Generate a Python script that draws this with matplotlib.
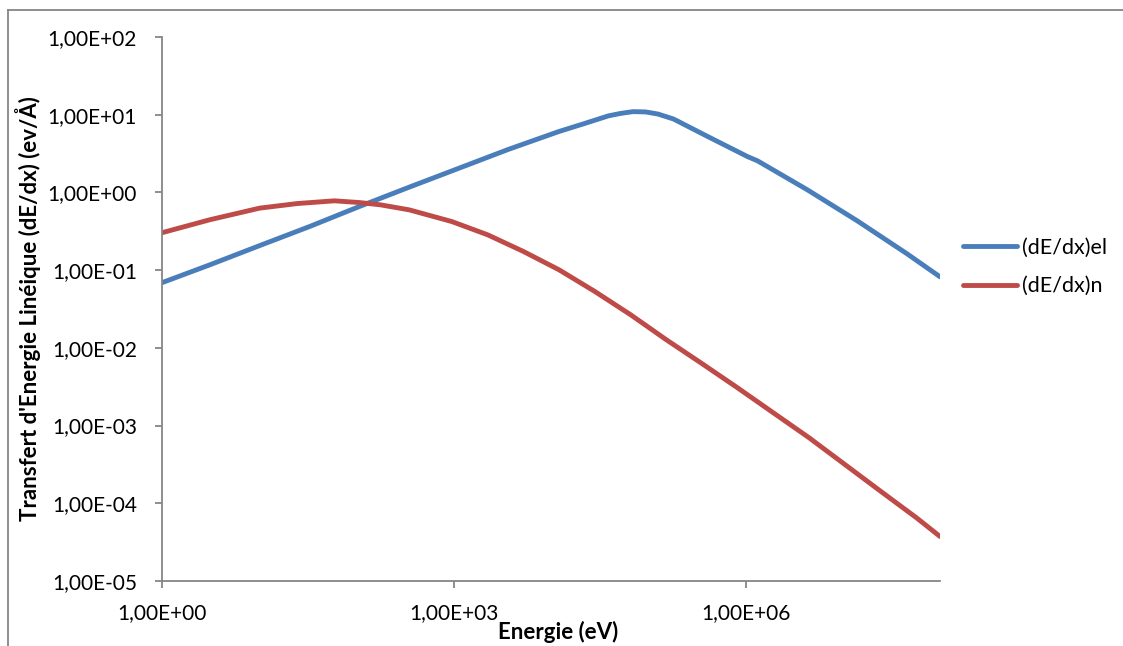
import matplotlib
matplotlib.use("Agg")
import matplotlib.pyplot as plt
from matplotlib.ticker import FixedLocator, FuncFormatter, NullLocator
from matplotlib.lines import Line2D

# Data (log-log)
energy_el = [1.0, 3.10, 10.1, 33.1, 107, 349, 1132, 3690, 11970, 21500, 38900, 52100, 70000,
             94000, 126000, 182000, 410000, 1050000, 1330000, 4330000, 14100000, 45600000,
             100000000]
dedx_el = [0.069, 0.117, 0.207, 0.365, 0.659, 1.17, 2.05, 3.60, 6.06, 7.62, 9.66, 10.4, 10.96,
           10.86, 10.2, 8.8, 5.23, 2.89, 2.55, 1.08, 0.431, 0.163, 0.082]

energy_n = [1.0, 3.10, 10.1, 24.5, 59.2, 107, 176, 348, 955, 2230, 5200, 12100, 28200, 65800,
            153000, 357000, 832000, 1940000, 4520000, 10500000, 24500000, 57200000, 100000000]
dedx_n = [0.303, 0.445, 0.628, 0.719, 0.780, 0.741, 0.693, 0.597, 0.422, 0.285, 0.174, 0.101,
          0.0532, 0.0267, 0.01274, 0.00627, 0.00305, 0.001455, 0.000695, 0.000316,
          0.000143, 6.52e-05, 3.74e-05]

series_labels = ["(dE/dx)el", "(dE/dx)n"]
series_colors = ["#4A7EBB", "#BE4B48"]
x_ticks = [1, 1e3, 1e6]
y_ticks = [1e-5, 1e-4, 1e-3, 1e-2, 1e-1, 1, 1e1, 1e2]

plt.rcParams['font.family'] = ['Lato', 'DejaVu Sans']

W, H = 1123, 646
fig = plt.figure(figsize=(W / 100, H / 100), dpi=100)
ax = fig.add_axes([162 / W, 1 - 581 / H, (940 - 162) / W, (581 - 37) / H])

l1, = ax.plot(energy_el, dedx_el, color=series_colors[0], lw=3.5, solid_capstyle='round',
              solid_joinstyle='round')
l2, = ax.plot(energy_n, dedx_n, color=series_colors[1], lw=3.5, solid_capstyle='round',
              solid_joinstyle='round')

ax.set_xscale('log')
ax.set_yscale('log')
ax.set_xlim(1, 1e8)
ax.set_ylim(1e-5, 1e2)

fmt = FuncFormatter(lambda v, p: f"{v:.2E}".replace('.', ','))
ax.xaxis.set_major_locator(FixedLocator(x_ticks))
ax.yaxis.set_major_locator(FixedLocator(y_ticks))
ax.xaxis.set_minor_locator(NullLocator())
ax.yaxis.set_minor_locator(NullLocator())
ax.xaxis.set_major_formatter(fmt)
ax.yaxis.set_major_formatter(fmt)

axis_gray = "#868686"
for s in ['top', 'right']:
    ax.spines[s].set_visible(False)
for s in ['left', 'bottom']:
    ax.spines[s].set_color(axis_gray)
    ax.spines[s].set_linewidth(1.3)
ax.tick_params(axis='both', which='major', direction='out', length=5, width=1.3,
               color=axis_gray, labelsize=15, labelcolor='black')
ax.tick_params(axis='y', pad=13)
ax.tick_params(axis='x', pad=11)

ax.set_xlabel("Energie (eV)", fontsize=16, fontweight='bold')
ax.set_ylabel("Transfert d'Energie Linéique (dE/dx) (ev/Å)", fontsize=16,
              fontweight='bold')
ax.xaxis.set_label_coords((558 - 162) / 778, -(621 - 581) / 544)
ax.yaxis.set_label_coords((41 - 162) / 778, 0.5)

leg = fig.legend([l1, l2], series_labels, loc='center left',
                 bbox_to_anchor=(963 / W, 1 - 267 / H), frameon=False, fontsize=15.5,
                 handlelength=2.5, handletextpad=0.25, labelspacing=0.85, borderpad=0,
                 borderaxespad=0)

# Outer chart frame (left and top edges visible)
fig.add_artist(Line2D([8 / W, 8 / W], [0, 1 - 10 / H], transform=fig.transFigure,
                      color=axis_gray, lw=1.3))
fig.add_artist(Line2D([8 / W, 1], [1 - 10 / H, 1 - 10 / H], transform=fig.transFigure,
                      color=axis_gray, lw=1.3))

fig.savefig("out.png", dpi=100)
